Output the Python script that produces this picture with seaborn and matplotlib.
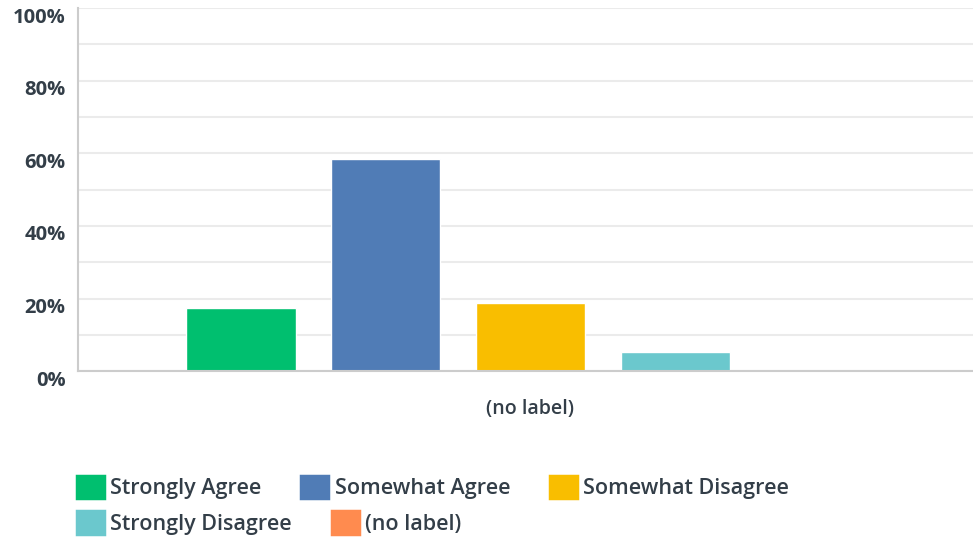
import matplotlib
matplotlib.use('Agg')

import pandas as pd
import seaborn as sns
import matplotlib.pyplot as plt
import matplotlib.transforms as mtransforms
from matplotlib.patches import Patch
from matplotlib.ticker import MultipleLocator, FuncFormatter

# Survey answer shares (percent), single question with no label
question = ['(no label)']
answers = ['Strongly Agree', 'Somewhat Agree', 'Somewhat Disagree',
           'Strongly Disagree', '(no label)']
shares = [17.5, 58.5, 18.9, 5.4, 0.0]
colors = ['#00bf6f', '#507cb6', '#f9be00', '#6bc8cd', '#ff8b4f']
y_ticks = [0, 20, 40, 60, 80, 100]

text_color = '#333e48'

sns.set_style('white')
plt.rcParams['font.family'] = ['Open Sans', 'DejaVu Sans']

df = pd.DataFrame({
    'question': question * len(answers),
    'answer': answers,
    'share': shares,
})

fig = plt.figure(figsize=(9.73, 5.41), dpi=100)
ax = fig.add_axes([0.0802, 0.314, 0.93, 0.671])

sns.barplot(data=df, x='question', y='share', hue='answer', hue_order=answers,
            palette=colors, width=0.8, gap=0.245, legend=False, ax=ax,
            saturation=1)

ax.set_ylim(0, 100)
ax.set_yticks(y_ticks)
ax.yaxis.set_minor_locator(MultipleLocator(10))
ax.yaxis.set_major_formatter(FuncFormatter(lambda v, p: f'{v:.0f}%'))
ax.grid(axis='y', which='both', color='#ebebeb', linewidth=1.5)
ax.set_axisbelow(True)

for side in ['top', 'right']:
    ax.spines[side].set_visible(False)
for side in ['left', 'bottom']:
    ax.spines[side].set_color('#cccccc')
    ax.spines[side].set_linewidth(1.5)

ax.tick_params(axis='y', which='both', length=0, pad=9, labelsize=14.5,
               labelcolor=text_color)
ax.tick_params(axis='x', length=0, pad=20, labelsize=14, labelcolor=text_color)
# y labels sit a little below their gridlines in the original
shift = mtransforms.ScaledTranslation(0, -7 / 100, fig.dpi_scale_trans)
for lab in ax.get_yticklabels():
    lab.set_fontweight('bold')
    lab.set_transform(lab.get_transform() + shift)
for lab in ax.get_xticklabels():
    lab.set_fontweight('semibold')
ax.set_xlabel('')
ax.set_ylabel('')

# legend laid out in two rows like the original flow layout
def make_handles(idx):
    return [Patch(facecolor=colors[i], edgecolor=colors[i], linewidth=2.5,
                  joinstyle='round') for i in idx]

leg_kw = dict(frameon=False, prop=dict(size=15.5, weight='semibold'),
              handlelength=1.25, handleheight=1.25,
              handletextpad=0.3, columnspacing=1.85, labelcolor=text_color,
              borderaxespad=0, borderpad=0)
leg1 = fig.legend(make_handles([0, 1, 2]), answers[:3], ncol=3,
                  loc='center left', bbox_to_anchor=(0.079, 0.099), **leg_kw)
leg2 = fig.legend(make_handles([3, 4]), answers[3:], ncol=2,
                  loc='center left', bbox_to_anchor=(0.079, 0.033), **leg_kw)

fig.savefig('out.png', dpi=100)
